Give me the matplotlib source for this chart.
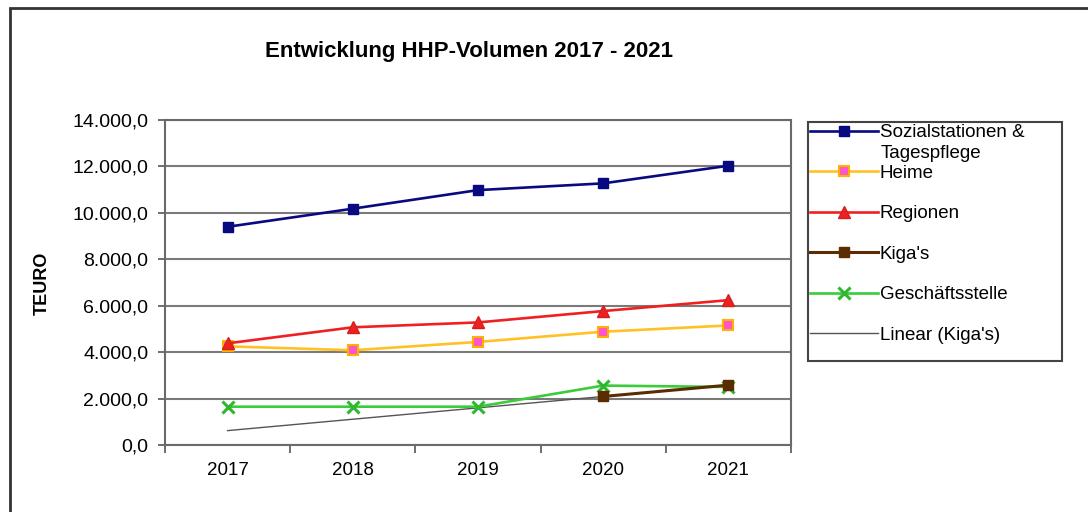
import numpy as np
import matplotlib
matplotlib.use("Agg")
import matplotlib.pyplot as plt
from matplotlib.patches import Rectangle
from matplotlib.ticker import FuncFormatter

plt.rcParams['font.family'] = ['Liberation Sans', 'DejaVu Sans']

years = ['2017', '2018', '2019', '2020', '2021']
sozial = [9400, 10180, 10980, 11270, 12030]
heime = [4250, 4080, 4440, 4880, 5150]
regionen = [4380, 5070, 5280, 5770, 6240]
kigas = [np.nan, np.nan, np.nan, 2090, 2580]
geschaeft = [1650, 1650, 1650, 2560, 2500]
title = 'Entwicklung HHP-Volumen 2017 - 2021'
ylabel = 'TEURO'
labels = ['Sozialstationen &', 'Heime', 'Regionen', "Kiga's", 'Geschäftsstelle', "Linear (Kiga's)"]

W, H = 1088, 512
fig = plt.figure(figsize=(W / 100, H / 100), dpi=100)
fig.patch.set_facecolor('white')

def fx(px):
    return px / W

def fy(py):
    return 1 - py / H

ax = fig.add_axes([fx(165), fy(445), fx(791) - fx(165), fy(120) - fy(445)])
x = np.arange(len(years))

lw = 1.9
l1, = ax.plot(x, sozial, color='#0a0a80', lw=lw, marker='s', ms=7.5,
              mfc='#0a0a80', mec='#0a0a80', zorder=5)
l2, = ax.plot(x, heime, color='#FFC125', lw=lw, marker='s', ms=7,
              mfc='#FF55CC', mec='#FFB000', mew=1.5, zorder=5)
l3, = ax.plot(x, regionen, color='#F02020', lw=lw, marker='^', ms=8,
              mfc='#F02020', mec='#D02020', zorder=5)
l4, = ax.plot(x, kigas, color='#5a2c00', lw=lw + 0.3, marker='s', ms=6.5,
              mfc='#5a2c00', mec='#5a2c00', zorder=6)
l5, = ax.plot(x, geschaeft, color='#3ACC3A', lw=lw, marker='x', ms=8,
              mew=2.2, mec='#2FB82F', zorder=5)

kx = np.array([i for i, v in enumerate(kigas) if not np.isnan(v)])
ky = np.array([v for v in kigas if not np.isnan(v)])
coef = np.polyfit(kx, ky, 1)
trend = np.polyval(coef, x)
l6, = ax.plot(x, trend, color='#555555', lw=1.0, zorder=4)

ax.set_xlim(-0.5, len(years) - 0.5)
ax.set_ylim(0, 14000)
ax.set_yticks(np.arange(0, 14001, 2000))

def de_fmt(v, pos):
    s = f"{v:,.1f}"
    return s.replace(',', 'X').replace('.', ',').replace('X', '.')

ax.yaxis.set_major_formatter(FuncFormatter(de_fmt))
ax.set_xticks(x)
ax.set_xticklabels(years)
ax.set_xticks(np.arange(-0.5, len(years), 1.0), minor=True)
ax.tick_params(axis='x', which='major', length=0, pad=12, labelsize=13.5)
ax.tick_params(axis='x', which='minor', length=6, width=1.2, color='#555555', direction='out')
ax.tick_params(axis='y', which='major', length=5, width=1.2, color='#555555',
               direction='out', labelsize=14, pad=7)

ax.grid(axis='y', color='#7a7a7a', lw=1.5)
ax.set_axisbelow(True)
for s in ax.spines.values():
    s.set_color('#6a6a6a')
    s.set_linewidth(1.5)

fig.text(fx(42), fy(283), ylabel, rotation=90, ha='center', va='center',
         fontsize=13, fontweight='bold')
fig.text(fx(469), fy(51), title, ha='center', va='center',
         fontsize=16, fontweight='bold')

# outer chart border
fig.add_artist(Rectangle((fx(10), fy(H + 20)), fx(W + 20) - fx(10), fy(8) - fy(H + 20),
                         transform=fig.transFigure, fill=False, ec='#333333', lw=2))

# legend frame
fig.add_artist(Rectangle((fx(808), fy(361)), fx(1062) - fx(808), fy(122) - fy(361),
                         transform=fig.transFigure, fill=False, ec='#444444', lw=1.5))

leg = fig.legend([l1, l2, l3, l4, l5, l6], labels, loc='upper left',
                 bbox_to_anchor=(fx(810), fy(124)), frameon=False, fontsize=13.5,
                 handlelength=3.6, handletextpad=0.12, borderpad=0, borderaxespad=0,
                 labelspacing=1.25)
fig.text(fx(881), fy(153), 'Tagespflege', ha='left', va='center', fontsize=13.5)

fig.savefig('out.png', dpi=100, facecolor='white')
